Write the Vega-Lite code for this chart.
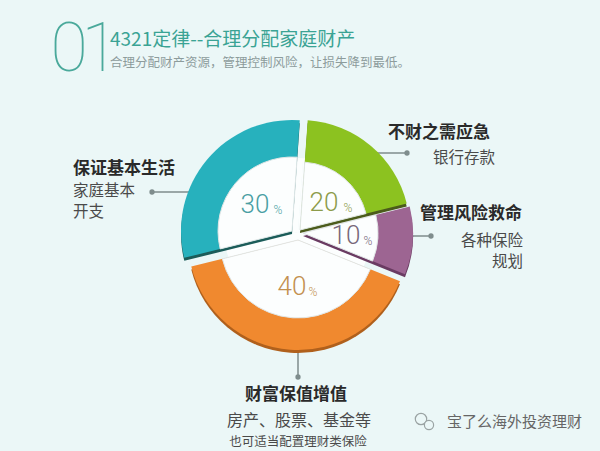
{
  "$schema": "https://vega.github.io/schema/vega-lite/v6.json",
  "width": 596,
  "height": 438,
  "autosize": {"type": "none"},
  "padding": {"left": 0, "top": 13, "right": 4, "bottom": 0},
  "background": "#ebf7f7",
  "config": {"view": {"stroke": null}},
  "datasets": {
    "pie": [
      {"cat": "green", "value": 20, "order": 1},
      {"cat": "purple", "value": 10, "order": 2},
      {"cat": "orange", "value": 40, "order": 3},
      {"cat": "teal", "value": 30, "order": 4}
    ],
    "leaders": [
      {"x": 205, "y": 192, "x2": 152, "y2": 192},
      {"x": 360, "y": 153, "x2": 407, "y2": 153},
      {"x": 395, "y": 236, "x2": 431, "y2": 236},
      {"x": 298, "y": 335, "x2": 298, "y2": 377}
    ],
    "icon": [
      {"x": 421, "y": 419, "s": 130},
      {"x": 429, "y": 425, "s": 85}
    ],
    "labels": [
      {"role": "title", "text": "4321定律--合理分配家庭财产", "x": 110, "y": 40},
      {"role": "sub", "text": "合理分配财产资源，管理控制风险，让损失降到最低。", "x": 110, "y": 63},
      {"role": "big", "text": "0", "x": 69, "y": 51},
      {"role": "big", "text": "1", "x": 100, "y": 51},
      {"role": "head", "text": "保证基本生活", "x": 73, "y": 169},
      {"role": "head", "text": "不财之需应急", "x": 388, "y": 133},
      {"role": "head", "text": "管理风险救命", "x": 420, "y": 214},
      {"role": "bodyL", "text": "家庭基本", "x": 73, "y": 191},
      {"role": "bodyL", "text": "开支", "x": 73, "y": 212},
      {"role": "bodyR", "text": "银行存款", "x": 495, "y": 158},
      {"role": "bodyR", "text": "各种保险", "x": 523, "y": 241},
      {"role": "bodyR", "text": "规划", "x": 523, "y": 262},
      {"role": "headC", "text": "财富保值增值", "x": 296, "y": 395},
      {"role": "bodyC", "text": "房产、股票、基金等", "x": 299, "y": 421},
      {"role": "smallC", "text": "也可适当配置理财类保险", "x": 298, "y": 442},
      {"role": "wm", "text": "宝了么海外投资理财", "x": 447, "y": 422},
      {"role": "num", "cat": "teal", "text": "30", "x": 255, "y": 205},
      {"role": "num", "cat": "green", "text": "20", "x": 324, "y": 203},
      {"role": "num", "cat": "purple", "text": "10", "x": 346, "y": 236},
      {"role": "num", "cat": "orange", "text": "40", "x": 292, "y": 287},
      {"role": "pct", "cat": "teal", "text": "%", "x": 278, "y": 214},
      {"role": "pct", "cat": "green", "text": "%", "x": 348, "y": 212},
      {"role": "pct", "cat": "purple", "text": "%", "x": 368, "y": 245},
      {"role": "pct", "cat": "orange", "text": "%", "x": 313, "y": 296}
    ]
  },
  "layer": [
    {
      "data": {"name": "leaders"},
      "mark": {"type": "rule", "stroke": "#7f8d8d", "strokeWidth": 1.5},
      "encoding": {
        "x": {"field": "x", "type": "quantitative", "scale": {"domain": [0, 596], "nice": false, "zero": false}, "axis": null},
        "y": {"field": "y", "type": "quantitative", "scale": {"domain": [13, 451], "nice": false, "zero": false, "reverse": true}, "axis": null},
        "x2": {"field": "x2"},
        "y2": {"field": "y2"}
      }
    },
    {
      "data": {"name": "leaders"},
      "mark": {"type": "point", "filled": true, "size": 28, "color": "#7f8d8d", "opacity": 1},
      "encoding": {
        "x": {"field": "x2", "type": "quantitative", "axis": null},
        "y": {"field": "y2", "type": "quantitative", "axis": null}
      }
    },
    {
      "data": {"name": "icon"},
      "mark": {"type": "point", "shape": "circle", "filled": false, "stroke": "#9aa3a3", "strokeWidth": 1.2, "fill": "#ebf7f7", "fillOpacity": 1, "opacity": 1},
      "encoding": {
        "x": {"field": "x", "type": "quantitative", "axis": null},
        "y": {"field": "y", "type": "quantitative", "axis": null},
        "size": {"field": "s", "type": "quantitative", "scale": null, "legend": null}
      }
    },
    {
      "data": {"name": "pie"},
      "transform": [
        {"stack": "value", "groupby": [], "sort": [{"field": "order", "order": "ascending"}], "as": ["v0", "v1"]}
      ],
      "encoding": {
        "theta": {"field": "v0", "type": "quantitative", "stack": null, "scale": {"domain": [0, 100], "range": [0.07, 6.353]}},
        "theta2": {"field": "v1"}
      },
      "layer": [
        {"mark": {"type": "arc", "outerRadius": 74, "innerRadius": 0, "fill": "#fcfefe"}},

        {"transform": [{"filter": "datum.cat==='orange'"}], "mark": {"type": "arc", "outerRadius": 110, "innerRadius": 0, "fill": "#b0601c", "xOffset": 0, "yOffset": 11}},
        {"transform": [{"filter": "datum.cat==='orange'"}], "mark": {"type": "arc", "outerRadius": 110, "innerRadius": 0, "fill": "#f0892f", "xOffset": 0, "yOffset": 8}},
        {"transform": [{"filter": "datum.cat==='orange'"}], "mark": {"type": "arc", "outerRadius": 78, "innerRadius": 0, "fill": "#fcfefe", "stroke": "#e0e6e6", "strokeWidth": 1, "xOffset": 0, "yOffset": 8}},

        {"transform": [{"filter": "datum.cat==='purple'"}], "mark": {"type": "arc", "outerRadius": 110, "innerRadius": 0, "fill": "#6a3b62", "xOffset": 5, "yOffset": 4}},
        {"transform": [{"filter": "datum.cat==='purple'"}], "mark": {"type": "arc", "outerRadius": 110, "innerRadius": 0, "fill": "#9d6592", "xOffset": 5, "yOffset": 1}},
        {"transform": [{"filter": "datum.cat==='purple'"}], "mark": {"type": "arc", "outerRadius": 75, "innerRadius": 0, "fill": "#fcfefe", "stroke": "#e0e6e6", "strokeWidth": 1, "xOffset": 5, "yOffset": 1}},

        {"transform": [{"filter": "datum.cat==='teal'"}], "mark": {"type": "arc", "outerRadius": 111, "innerRadius": 0, "fill": "#1b5c59", "xOffset": -6, "yOffset": 2}},
        {"transform": [{"filter": "datum.cat==='teal'"}], "mark": {"type": "arc", "outerRadius": 111, "innerRadius": 0, "fill": "#27b1bd", "xOffset": -6, "yOffset": -1}},
        {"transform": [{"filter": "datum.cat==='teal'"}], "mark": {"type": "arc", "outerRadius": 74, "innerRadius": 0, "fill": "#fcfefe", "stroke": "#e0e6e6", "strokeWidth": 1, "xOffset": -6, "yOffset": -1}},

        {"transform": [{"filter": "datum.cat==='green'"}], "mark": {"type": "arc", "outerRadius": 110, "innerRadius": 0, "fill": "#4b5b1b", "xOffset": 2, "yOffset": 1}},
        {"transform": [{"filter": "datum.cat==='green'"}], "mark": {"type": "arc", "outerRadius": 110, "innerRadius": 0, "fill": "#8cc220", "xOffset": 2, "yOffset": -2}},
        {"transform": [{"filter": "datum.cat==='green'"}], "mark": {"type": "arc", "outerRadius": 68, "innerRadius": 0, "fill": "#fcfefe", "stroke": "#e0e6e6", "strokeWidth": 1, "xOffset": 2, "yOffset": -2}}
      ]
    },
    {
      "data": {"name": "labels"},
      "encoding": {
        "x": {"field": "x", "type": "quantitative", "axis": null},
        "y": {"field": "y", "type": "quantitative", "axis": null},
        "text": {"field": "text"}
      },
      "layer": [
        {"transform": [{"filter": "datum.role==='title'"}], "mark": {"type": "text", "align": "left", "baseline": "middle", "font": "Noto Sans CJK SC", "fontSize": 19, "fontWeight": 400, "fill": "#3aa394"}},
        {"transform": [{"filter": "datum.role==='sub'"}], "mark": {"type": "text", "align": "left", "baseline": "middle", "font": "Noto Sans CJK SC", "fontSize": 12.5, "fill": "#8d9c9c"}},
        {"transform": [{"filter": "datum.role==='big'"}], "mark": {"type": "text", "align": "center", "baseline": "middle", "font": "Roboto", "fontSize": 68, "fontWeight": 100, "fill": "#4aa99b"}},
        {"transform": [{"filter": "datum.role==='head'"}], "mark": {"type": "text", "align": "left", "baseline": "middle", "font": "Noto Sans CJK SC", "fontSize": 17, "fontWeight": 700, "fill": "#2a2a2a"}},
        {"transform": [{"filter": "datum.role==='headC'"}], "mark": {"type": "text", "align": "center", "baseline": "middle", "font": "Noto Sans CJK SC", "fontSize": 17, "fontWeight": 700, "fill": "#2a2a2a"}},
        {"transform": [{"filter": "datum.role==='bodyL'"}], "mark": {"type": "text", "align": "left", "baseline": "middle", "font": "Noto Sans CJK SC", "fontSize": 15.5, "fill": "#4a4a4a"}},
        {"transform": [{"filter": "datum.role==='bodyR'"}], "mark": {"type": "text", "align": "right", "baseline": "middle", "font": "Noto Sans CJK SC", "fontSize": 15.5, "fill": "#4a4a4a"}},
        {"transform": [{"filter": "datum.role==='bodyC'"}], "mark": {"type": "text", "align": "center", "baseline": "middle", "font": "Noto Sans CJK SC", "fontSize": 16, "fill": "#4a4a4a"}},
        {"transform": [{"filter": "datum.role==='smallC'"}], "mark": {"type": "text", "align": "center", "baseline": "middle", "font": "Noto Sans CJK SC", "fontSize": 12.5, "fill": "#4a4a4a"}},
        {"transform": [{"filter": "datum.role==='wm'"}], "mark": {"type": "text", "align": "left", "baseline": "middle", "font": "Noto Sans CJK SC", "fontSize": 15, "fill": "#666666"}},
        {"transform": [{"filter": "datum.role==='num'"}], "mark": {"type": "text", "align": "center", "baseline": "middle", "font": "Roboto", "fontSize": 26, "fontWeight": 300},
          "encoding": {"color": {"field": "cat", "type": "nominal", "legend": null, "scale": {"domain": ["teal", "green", "purple", "orange"], "range": ["#4a9ea3", "#8c9b4a", "#776779", "#c3904f"]}}}},
        {"transform": [{"filter": "datum.role==='pct'"}], "mark": {"type": "text", "align": "center", "baseline": "alphabetic", "font": "Roboto", "fontSize": 12, "fontWeight": 300},
          "encoding": {"color": {"field": "cat", "type": "nominal", "legend": null}}}
      ]
    }
  ]
}
